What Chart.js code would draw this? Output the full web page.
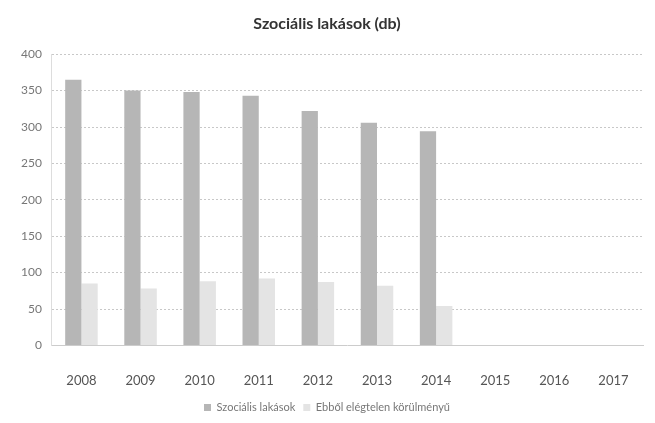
<!DOCTYPE html>
<html>
<head>
<meta charset="utf-8">
<script src="https://cdn.jsdelivr.net/npm/chart.js@4"></script>
<style>
html,body{margin:0;padding:0;background:#fff;}
#wrap{width:655px;height:423px;position:relative;}
</style>
</head>
<body>
<div id="wrap"><canvas id="c" width="655" height="423"></canvas></div>
<script>
const categories = ['2008','2009','2010','2011','2012','2013','2014','2015','2016','2017'];
const socialHousing = [365, 350, 348, 343, 322, 306, 294, 0, 0, 0];
const poorCondition = [85, 78, 88, 92, 87, 82, 54, 0, 0, 0];
const yTicks = [0, 50, 100, 150, 200, 250, 300, 350, 400];
const seriesNames = ['Szociális lakások', 'Ebből elégtelen körülményű'];
const titleText = 'Szociális lakások (db)';

const fontFam = 'Lato, "Open Sans", sans-serif';
new Chart(document.getElementById('c'), {
  type: 'bar',
  data: {
    labels: categories,
    datasets: [
      { label: seriesNames[0], data: socialHousing, backgroundColor: '#b6b6b6', categoryPercentage: 0.55, barPercentage: 1.0 },
      { label: seriesNames[1], data: poorCondition, backgroundColor: '#e4e4e4', categoryPercentage: 0.55, barPercentage: 1.0 }
    ]
  },
  options: {
    responsive: false,
    animation: false,
    devicePixelRatio: 1,
    layout: { padding: { left: 11, right: 12, top: 8, bottom: 0 } },
    plugins: {
      title: { display: true, text: titleText, color: '#333', font: { family: fontFam, size: 16, weight: 'bold' }, padding: { top: 6, bottom: 21 } },
      legend: { position: 'bottom', labels: { color: '#777', font: { family: fontFam, size: 11 }, boxWidth: 7, boxHeight: 7, padding: 8 } },
      tooltip: { enabled: false }
    },
    scales: {
      x: {
        grid: { display: false },
        border: { color: '#ccc' },
        ticks: { color: '#555', font: { family: fontFam, size: 13 }, padding: 20 },
        afterFit: (s) => { s.height = s.height - 15; }
      },
      y: {
        min: 0, max: 400,
        afterBuildTicks: (axis) => { axis.ticks = yTicks.map(v => ({ value: v })); },
        grid: { color: '#c8c8c8', borderDash: [2, 2], drawTicks: false },
        border: { display: true, color: '#ddd', dash: [2, 2] },
        ticks: { color: '#777', font: { family: fontFam, size: 12 }, padding: 10 }
      }
    }
  }
});
</script>
</body>
</html>
